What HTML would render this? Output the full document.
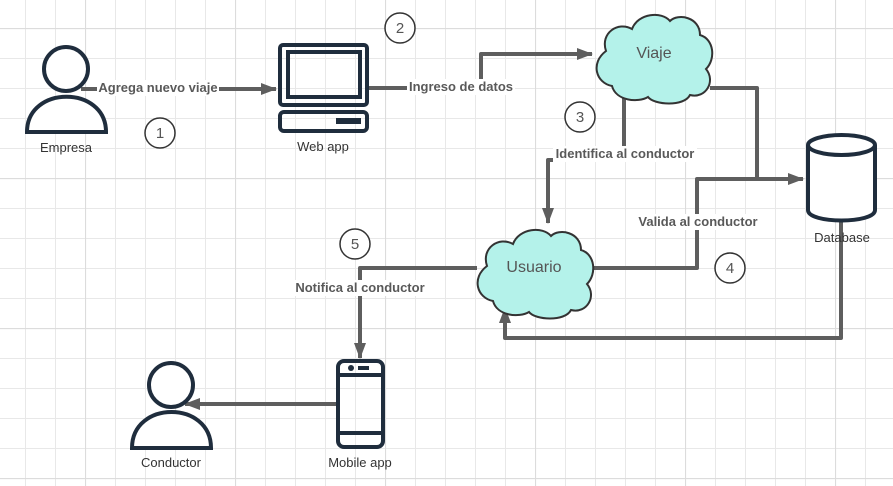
<!DOCTYPE html>
<html><head><meta charset="utf-8"><style>
html,body{margin:0;padding:0;background:#fff}
svg{display:block}
text{font-family:"Liberation Sans",sans-serif}
.l{font-size:13px;font-weight:bold;fill:#595959}
.n{font-size:13px;fill:#333}
.c{font-size:16px;fill:#555}
</style></head><body>
<svg width="893" height="486" viewBox="0 0 893 486" xmlns="http://www.w3.org/2000/svg">
<defs>
<pattern id="g" x="25" y="28" width="30" height="30" patternUnits="userSpaceOnUse">
<path d="M0.5 0V30M0 0.5H30" stroke="#e8e8e8" stroke-width="1" fill="none"/>
</pattern>
<pattern id="G" x="85" y="28" width="150" height="150" patternUnits="userSpaceOnUse">
<path d="M0.5 0V150M0 0.5H150" stroke="#dcdcdc" stroke-width="1.2" fill="none"/>
</pattern>
<marker id="a" markerWidth="16" markerHeight="12" refX="15" refY="6" orient="auto" markerUnits="userSpaceOnUse" viewBox="0 0 16 12">
<path d="M0,0 L16,6 L0,12 Z" fill="#5e5e5e"/></marker>
<path id="cloud" d="M18,75 C2,72 -4,52 12,40 C6,22 24,10 38,18 C44,2 68,0 76,10 C84,2 106,6 106,24 C120,28 122,48 112,58 C122,70 112,88 96,84 C90,96 60,94 54,86 C44,92 22,90 18,75 Z"/>
</defs>
<rect width="893" height="486" fill="url(#g)"/>
<rect width="893" height="486" fill="url(#G)"/>

<g fill="none" stroke="#5e5e5e" stroke-width="4" stroke-linejoin="round">
<path d="M81,89 H276" marker-end="url(#a)"/>
<path d="M368,88 H481 V54 H592" marker-end="url(#a)"/>
<path d="M624,92 V160 H548 V223" marker-end="url(#a)"/>
<path d="M710,88 H757 V178"/>
<path d="M592,268 H697 V179 H803" marker-end="url(#a)"/>
<path d="M841,220 V338 H505 V308" marker-end="url(#a)"/>
<path d="M477,268 H360 V358" marker-end="url(#a)"/>
<path d="M336,404 H185" marker-end="url(#a)"/>
</g>

<rect x="97" y="80" width="122" height="16" fill="#fff"/>
<text x="158" y="92" class="l" text-anchor="middle">Agrega nuevo viaje</text>
<rect x="407" y="79" width="108" height="16" fill="#fff"/>
<text x="461" y="91" class="l" text-anchor="middle">Ingreso de datos</text>
<rect x="553" y="146" width="144" height="16" fill="#fff"/>
<text x="625" y="158" class="l" text-anchor="middle">Identifica al conductor</text>
<rect x="636" y="214" width="124" height="16" fill="#fff"/>
<text x="698" y="226" class="l" text-anchor="middle">Valida al conductor</text>
<rect x="293" y="280" width="134" height="16" fill="#fff"/>
<text x="360" y="292" class="l" text-anchor="middle">Notifica al conductor</text>

<g fill="#fff" stroke="#1f2d3d" stroke-width="4">
<circle cx="66" cy="69" r="22"/>
<path d="M27,132 C27,85 106,85 106,132 Z"/>
<circle cx="171" cy="385" r="22"/>
<path d="M132,448 C132,400 211,400 211,448 Z"/>
</g>
<text x="66" y="152" class="n" text-anchor="middle">Empresa</text>
<text x="171" y="467" class="n" text-anchor="middle">Conductor</text>

<g fill="none" stroke="#1f2d3d" stroke-width="4">
<rect x="280" y="45" width="87" height="60" rx="3"/>
<rect x="288" y="52" width="72" height="45"/>
<rect x="280" y="112" width="87" height="19" rx="4"/>
</g>
<rect x="336" y="118" width="25" height="6" fill="#1f2d3d"/>
<text x="323" y="151" class="n" text-anchor="middle">Web app</text>

<g fill="none" stroke="#1f2d3d" stroke-width="4">
<rect x="338" y="361" width="45" height="86" rx="6"/>
<path d="M338,375 H383 M338,433 H383"/>
</g>
<circle cx="351" cy="368" r="3" fill="#1f2d3d"/>
<rect x="358" y="366" width="11" height="4" fill="#1f2d3d"/>
<text x="360" y="467" class="n" text-anchor="middle">Mobile app</text>

<g fill="#fff" stroke="#1f2d3d" stroke-width="4">
<path d="M808,145 V210 C808,224 875,224 875,210 V145"/>
<ellipse cx="841.5" cy="145" rx="33.5" ry="10"/>
</g>
<text x="842" y="242" class="n" text-anchor="middle">Database</text>

<use href="#cloud" transform="translate(594,11)" fill="#b4f2ea" stroke="#333" stroke-width="2"/>
<text x="654" y="58" class="c" text-anchor="middle">Viaje</text>
<use href="#cloud" transform="translate(475,226)" fill="#b4f2ea" stroke="#333" stroke-width="2"/>
<text x="534" y="272" class="c" text-anchor="middle">Usuario</text>

<g fill="#fff" stroke="#333" stroke-width="1.5">
<circle cx="160" cy="133" r="15"/>
<circle cx="400" cy="28" r="15"/>
<circle cx="580" cy="117" r="15"/>
<circle cx="730" cy="268" r="15"/>
<circle cx="355" cy="244" r="15"/>
</g>
<g class="c" text-anchor="middle" style="font-size:15px">
<text x="160" y="138">1</text>
<text x="400" y="33">2</text>
<text x="580" y="122">3</text>
<text x="730" y="273">4</text>
<text x="355" y="249">5</text>
</g>
</svg>
</body></html>
